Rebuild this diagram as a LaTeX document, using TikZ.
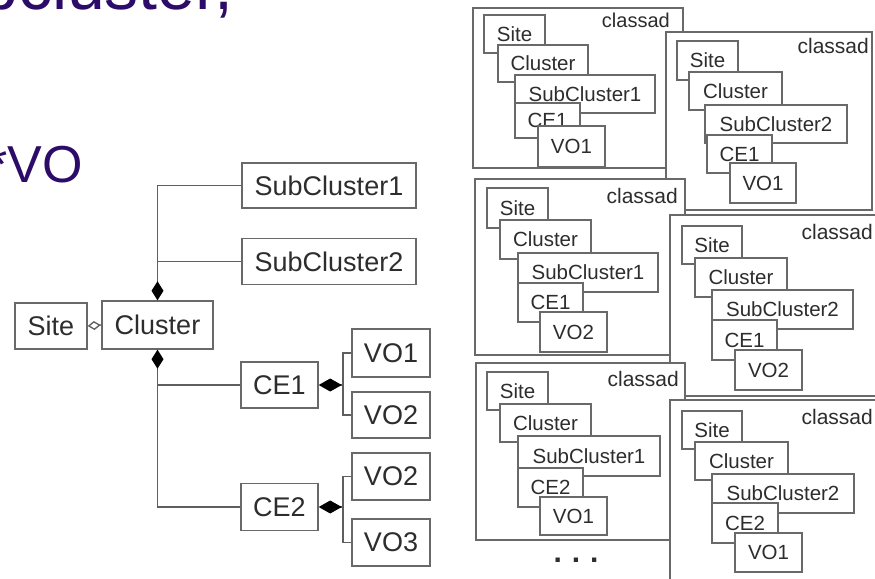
\documentclass[tikz,border=0pt]{standalone}
\usepackage{fontspec}
\setmainfont{Liberation Sans}
\usetikzlibrary{arrows.meta}
\definecolor{pur}{RGB}{45,12,105}
\definecolor{ln}{RGB}{95,95,95}
\definecolor{bx}{RGB}{105,105,105}
\definecolor{tx}{RGB}{45,45,45}
\newcommand{\ibx}[6]{\node[ib,minimum width={#4pt-#2pt},minimum height={#5pt-#3pt}] (#1) at ({(#2+#4)/2},{(#3+#5)/2}) {#6};}
\newcommand{\cbx}[5]{\node[cad,minimum width={#4pt-#2pt},minimum height={#5pt-#3pt}] (#1) at ({(#2+#4)/2},{(#3+#5)/2}) {};}
\begin{document}
\begin{tikzpicture}[x=1pt,y=-1pt,
  lb/.style={draw=bx,line width=1.4pt,fill=white,inner sep=0pt,font=\fontsize{27}{30}\selectfont,text=tx},
  conn/.style={draw=ln,line width=1.3pt},
  ib/.style={draw=bx,line width=1.2pt,fill=white,inner sep=0pt,font=\fontsize{20.5}{22}\selectfont,text=tx},
  cad/.style={draw=bx,line width=1.4pt,fill=white,inner sep=0pt},
  cadl/.style={font=\fontsize{21}{22}\selectfont,text=tx,anchor=base east,inner sep=0pt},
  big/.style={font=\fontsize{#1}{#1}\selectfont,text=pur,anchor=base west,inner sep=0pt}]
\useasboundingbox (0,0) rectangle (875,578);
\clip (0,0) rectangle (875,578);
% title fragments
\node[big=68] (t1) at (-20,10) {bcluster,};
\node[big=52] (t2) at (-13,182) {*VO};
% left diagram
\node[lb,minimum width=174pt,minimum height=45pt] (SC1) at (329,185.5) {SubCluster1};
\node[lb,minimum width=174pt,minimum height=46pt] (SC2) at (329,261.5) {SubCluster2};
\node[lb,minimum width=72pt,minimum height=46pt] (Site) at (51,326) {Site};
\node[lb,minimum width=111pt,minimum height=48pt] (Cluster) at (157.5,325) {Cluster};
\node[lb,minimum width=77pt,minimum height=46pt] (CE1) at (279.5,385) {CE1};
\node[lb,minimum width=77pt,minimum height=47pt] (CE2) at (279.5,507) {CE2};
\node[lb,minimum width=78pt,minimum height=48pt] (VO1) at (391,353) {VO1};
\node[lb,minimum width=78pt,minimum height=46pt] (VO2a) at (391,415) {VO2};
\node[lb,minimum width=78pt,minimum height=47pt] (VO2b) at (391,476.5) {VO2};
\node[lb,minimum width=78pt,minimum height=47pt] (VO3) at (391,542.5) {VO3};
\coordinate (j1) at (157.5,261.5);
\coordinate (j2) at (157.5,385);
\coordinate (k1) at (343,385);
\coordinate (k2) at (343,507);
\draw[conn,{Diamond[length=19pt,width=12pt,color=black]}-] (Cluster.north) |- (SC1.west);
\draw[conn] (j1) -- (SC2.west);
\draw[conn,{Diamond[length=19pt,width=12pt,color=black]}-] (Cluster.south) |- (CE2.west);
\draw[conn] (j2) -- (CE1.west);
\draw[conn,{Diamond[open,length=13pt,width=9pt,fill=white]}-] (Site.east) -- (Cluster.west);
\draw[conn,{Diamond[length=23pt,width=13pt,color=black]}-] (CE1.east) -- (k1);
\draw[conn] (k1) |- (VO1.west);
\draw[conn] (k1) |- (VO2a.west);
\draw[conn,{Diamond[length=23pt,width=13pt,color=black]}-] (CE2.east) -- (k2);
\draw[conn] (k2) |- (VO2b.west);
\draw[conn] (k2) |- (VO3.west);
% classad 1
\cbx{c1}{473}{8}{683}{168}
\ibx{c1s}{484}{15}{545}{53}{Site}
\ibx{c1c}{498}{45}{588}{82}{Cluster}
\ibx{c1sc}{515}{75}{655}{113}{SubCluster1}
\ibx{c1ce}{515}{103}{580}{138}{CE1}
\ibx{c1vo}{538}{126}{605}{167}{VO1}
\node[cadl,font=\fontsize{20}{22}\selectfont] (c1l) at (670,28) {classad};
% classad 2
\cbx{c2}{666}{32}{872}{210}
\ibx{c2s}{677}{41}{738}{80}{Site}
\ibx{c2c}{689}{72}{782}{110}{Cluster}
\ibx{c2sc}{705}{105}{847}{143}{SubCluster2}
\ibx{c2ce}{707}{135}{772}{173}{CE1}
\ibx{c2vo}{730}{163}{796}{203}{VO1}
\node[cadl] (c2l) at (869,53) {classad};
% classad 3
\cbx{c3}{475}{179}{685}{355}
\ibx{c3s}{487}{188}{548}{228}{Site}
\ibx{c3c}{500}{220}{591}{259}{Cluster}
\ibx{c3sc}{518}{253}{658}{292}{SubCluster1}
\ibx{c3ce}{518}{283}{583}{322}{CE1}
\ibx{c3vo}{540}{312}{607}{352}{VO2}
\node[cadl] (c3l) at (678,203) {classad};
% classad 4
\cbx{c4}{670}{215}{878}{396}
\ibx{c4s}{682}{226}{742}{264}{Site}
\ibx{c4c}{695}{258}{787}{297}{Cluster}
\ibx{c4sc}{712}{290}{853}{329}{SubCluster2}
\ibx{c4ce}{712}{320}{777}{360}{CE1}
\ibx{c4vo}{735}{350}{802}{390}{VO2}
\node[cadl] (c4l) at (873,239) {classad};
% classad 5
\cbx{c5}{476}{363}{685}{540}
\ibx{c5s}{487}{372}{548}{410}{Site}
\ibx{c5c}{500}{404}{591}{442}{Cluster}
\ibx{c5sc}{518}{436}{660}{476}{SubCluster1}
\ibx{c5ce}{518}{468}{583}{507}{CE2}
\ibx{c5vo}{540}{497}{607}{535}{VO1}
\node[cadl] (c5l) at (679,386) {classad};
% classad 6
\cbx{c6}{670}{400}{878}{590}
\ibx{c6s}{682}{411}{742}{449}{Site}
\ibx{c6c}{695}{442}{788}{480}{Cluster}
\ibx{c6sc}{712}{474}{854}{513}{SubCluster2}
\ibx{c6ce}{712}{503}{778}{543}{CE2}
\ibx{c6vo}{735}{533}{802}{572}{VO1}
\node[cadl] (c6l) at (873,424) {classad};
% dots
\node[font=\bfseries\fontsize{30}{30}\selectfont,text=tx,anchor=base,inner sep=0pt] (dots) at (576,562) {.\,\,.\,\,.};
\end{tikzpicture}
\end{document}
